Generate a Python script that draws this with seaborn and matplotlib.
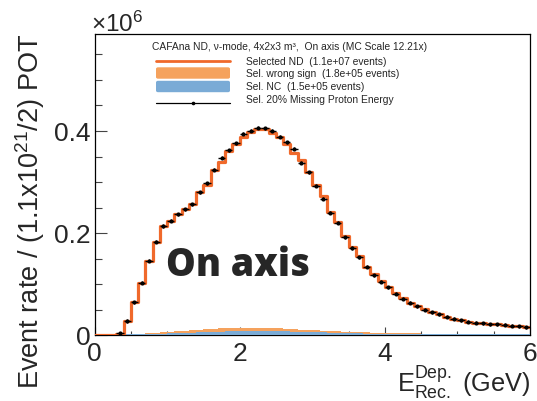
import numpy as np
import pandas as pd
import matplotlib
matplotlib.use("Agg")
import matplotlib.pyplot as plt
import seaborn as sns
from matplotlib.lines import Line2D
from matplotlib.patches import FancyBboxPatch
from matplotlib.ticker import FixedLocator, MultipleLocator, FuncFormatter

# ---------------- data (event rate per 0.1 GeV bin, in units of 10^6) ----------------
bin_width = 0.1
n_bins = 60
selected_nd = [
    0.0, 0.0, 0.0, 0.003, 0.028, 0.065, 0.103, 0.146, 0.183, 0.214,
    0.224, 0.237, 0.247, 0.257, 0.280, 0.295, 0.324, 0.340, 0.361, 0.374,
    0.388, 0.399, 0.404, 0.404, 0.396, 0.388, 0.374, 0.356, 0.344, 0.320,
    0.294, 0.273, 0.241, 0.221, 0.195, 0.172, 0.155, 0.133, 0.120, 0.106,
    0.095, 0.082, 0.073, 0.064, 0.057, 0.051, 0.045, 0.041, 0.0365, 0.032,
    0.029, 0.027, 0.025, 0.0235, 0.022, 0.0225, 0.021, 0.019, 0.0175, 0.016,
]
missing_proton = [
    0.0, 0.0, 0.0, 0.004, 0.028, 0.065, 0.103, 0.146, 0.183, 0.214,
    0.224, 0.237, 0.247, 0.257, 0.280, 0.298, 0.324, 0.348, 0.362, 0.376,
    0.395, 0.401, 0.406, 0.405, 0.401, 0.389, 0.378, 0.365, 0.338, 0.319,
    0.293, 0.267, 0.240, 0.220, 0.192, 0.171, 0.153, 0.1345, 0.118, 0.105,
    0.094, 0.081, 0.072, 0.064, 0.057, 0.050, 0.045, 0.041, 0.036, 0.032,
    0.029, 0.027, 0.025, 0.0235, 0.022, 0.022, 0.021, 0.019, 0.0175, 0.016,
]
wrong_sign = [
    0.0, 0.0, 0.0, 0.0, 0.001, 0.002, 0.003, 0.004, 0.005, 0.006,
    0.007, 0.008, 0.009, 0.010, 0.011, 0.012, 0.013, 0.014, 0.015, 0.015,
    0.015, 0.015, 0.015, 0.015, 0.014, 0.014, 0.013, 0.012, 0.011, 0.011,
    0.010, 0.009, 0.008, 0.008, 0.007, 0.007, 0.006, 0.006, 0.005, 0.005,
    0.004, 0.004, 0.004, 0.004, 0.004, 0.0035, 0.0035, 0.0035, 0.0035, 0.0035,
    0.003, 0.003, 0.003, 0.003, 0.003, 0.003, 0.003, 0.003, 0.003, 0.003,
]
nc = [
    0.003, 0.003, 0.003, 0.003, 0.003, 0.003, 0.003, 0.003, 0.0035, 0.0035,
    0.004, 0.004, 0.0045, 0.005, 0.0055, 0.006, 0.0065, 0.007, 0.008, 0.0085,
    0.009, 0.009, 0.009, 0.009, 0.0085, 0.008, 0.0075, 0.007, 0.0065, 0.006,
    0.006, 0.0055, 0.005, 0.0045, 0.0045, 0.004, 0.004, 0.0035, 0.0035, 0.003,
    0.003, 0.003, 0.003, 0.003, 0.003, 0.003, 0.003, 0.003, 0.003, 0.003,
    0.003, 0.003, 0.003, 0.003, 0.003, 0.003, 0.003, 0.003, 0.003, 0.003,
]
y_stat_err = 0.003

legend_title = "CAFAna ND, ν-mode, 4x2x3 m³,  On axis (MC Scale 12.21x)"
legend_labels = [
    "Selected ND  (1.1e+07 events)",
    "Sel. wrong sign  (1.8e+05 events)",
    "Sel. NC  (1.5e+05 events)",
    "Sel. 20% Missing Proton Energy",
]
x_ticks = [0, 2, 4, 6]
y_ticks = [0, 0.2, 0.4]

edges = [round(i * bin_width, 3) for i in range(n_bins + 1)]
centers = [e + bin_width / 2 for e in edges[:-1]]
df = pd.DataFrame({"E": centers, "sel": selected_nd, "mp": missing_proton,
                   "ws": wrong_sign, "nc": nc})

# ---------------- style ----------------
sns.set_style("ticks")
FONT = ["Liberation Sans", "DejaVu Sans"]
plt.rcParams["font.family"] = FONT
plt.rcParams["mathtext.fontset"] = "custom"
plt.rcParams["mathtext.rm"] = "Liberation Sans"
plt.rcParams["mathtext.it"] = "Liberation Sans:italic"
plt.rcParams["mathtext.bf"] = "Liberation Sans:bold"
plt.rcParams["mathtext.sf"] = "Liberation Sans"

C_SEL = "#f0692b"
C_WS = "#f5a25d"
C_NC = "#7aabd6"

W, H = 537, 401
fig = plt.figure(figsize=(W / 100, H / 100), dpi=100)
L, R, T, B = 94.5, 530, 34, 335.3
ax = fig.add_axes([L / W, 1 - B / H, (R - L) / W, (B - T) / H])

def fx(px):
    return px / W

def fy(py):
    return 1 - py / H

# ---------------- marks ----------------
sns.histplot(data=df, x="E", weights="ws", bins=edges, element="step", fill=True,
             color=C_WS, alpha=1, linewidth=0, ax=ax, zorder=3)
sns.histplot(data=df, x="E", weights="nc", bins=edges, element="step", fill=True,
             color=C_NC, alpha=1, linewidth=0, ax=ax, zorder=3.1)
sns.histplot(data=df, x="E", weights="sel", bins=edges, element="step", fill=False,
             color=C_SEL, linewidth=2.3, ax=ax, zorder=4)
mask = df["mp"] > 0
ax.errorbar(df.loc[mask, "E"], df.loc[mask, "mp"], xerr=bin_width / 2, yerr=y_stat_err,
            fmt="o", ms=2.0, color="black", lw=1.0, capsize=0, zorder=5)

# ---------------- axes ----------------
ax.set_xlim(0, 6)
ax.set_ylim(0, 0.59)
ax.set_xlabel("")
ax.set_ylabel("")
for s in ax.spines.values():
    s.set_visible(True)
    s.set_linewidth(0.9)
    s.set_color("black")
ax.xaxis.set_major_locator(FixedLocator(x_ticks))
ax.xaxis.set_minor_locator(MultipleLocator(0.5))
ax.yaxis.set_major_locator(FixedLocator(y_ticks))
ax.yaxis.set_minor_locator(MultipleLocator(0.05))
ax.yaxis.set_major_formatter(FuncFormatter(lambda v, p: "0" if v == 0 else f"{v:g}"))
ax.tick_params(axis="both", which="both", direction="in", color="#444444", width=0.8)
ax.tick_params(axis="y", which="major", length=8.6, pad=3, labelsize=19)
ax.tick_params(axis="y", which="minor", length=5)
ax.tick_params(axis="x", which="major", length=5.5, pad=5, labelsize=19)
ax.tick_params(axis="x", which="minor", length=3)

ax.set_ylabel("Event rate / (1.1x10$^{21}$/2) POT", fontsize=19.5, loc="top")
ax.yaxis.set_label_coords(-0.108, 1.0)
ax.set_xlabel(r"$\mathrm{E}^{\mathrm{Dep.}}_{\mathrm{Rec.}}$ (GeV)", fontsize=18.3, loc="right")
ax.xaxis.set_label_coords(1.0, -0.095)

fig.text(fx(91), fy(32), "×10$^{6}$", fontsize=17.5, ha="left", va="baseline")

# ---------------- legend (drawn by hand, ROOT style) ----------------
fs_leg = 7.4
fig.text(fx(152), fy(47.3), legend_title, fontsize=fs_leg, ha="left", va="center")
text_y = [62, 74, 87, 100.3]
handle_y = [60.7, 73, 86.5, 102.5]
hx0, hx1 = 156, 230
tx = 245.5
fig.add_artist(Line2D([fx(hx0), fx(hx1)], [fy(handle_y[0])] * 2, color=C_SEL, lw=2.0,
                      transform=fig.transFigure))
for yc, col in [(handle_y[1], C_WS), (handle_y[2], C_NC)]:
    fig.add_artist(FancyBboxPatch((fx(hx0), fy(yc + 5.7)), fx(hx1 - hx0), (11.4 / H),
                                  boxstyle="round,pad=0,rounding_size=0.004",
                                  facecolor=col, edgecolor="none",
                                  transform=fig.transFigure))
fig.add_artist(Line2D([fx(hx0), fx((hx0 + hx1) / 2), fx(hx1)], [fy(handle_y[3])] * 3,
                      color="black", lw=0.9, marker="o", ms=1.6, markevery=[1],
                      transform=fig.transFigure))
for yc, lab in zip(text_y, legend_labels):
    fig.text(fx(tx), fy(yc), lab, fontsize=fs_leg, ha="left", va="center")

# ---------------- big label ----------------
fig.text(fx(166), fy(276.5), "On axis", fontsize=27, fontweight="heavy",
         family=["Open Sans", "DejaVu Sans"], ha="left", va="baseline")

fig.savefig("out.png", dpi=100)
